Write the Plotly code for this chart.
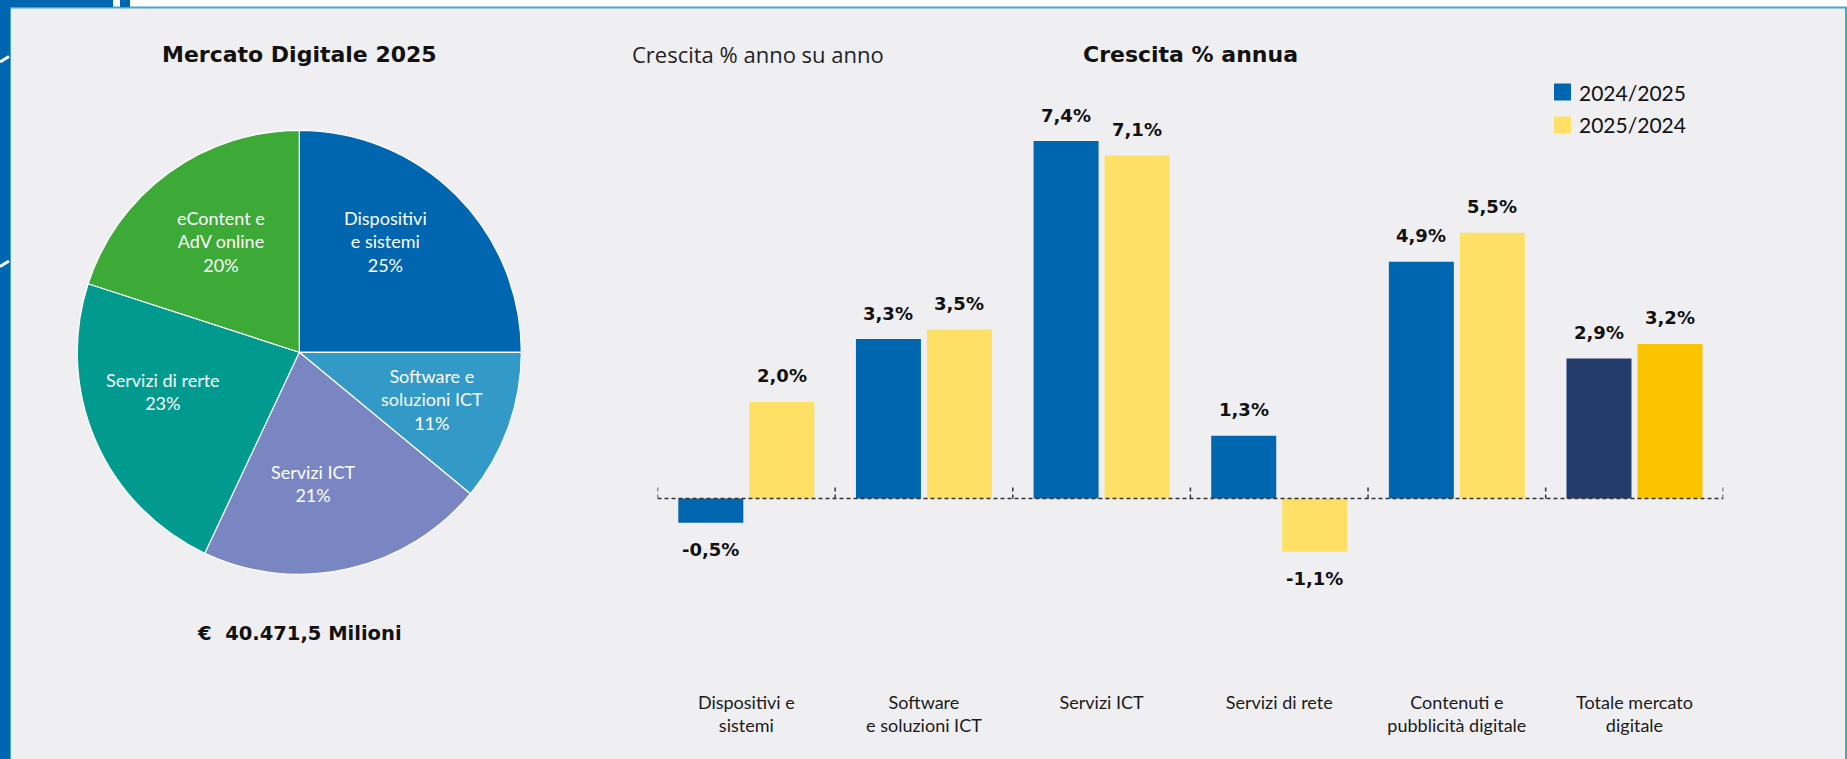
import plotly.graph_objects as go

# ---------------- data ----------------
pie_labels = ["Dispositivi<br>e sistemi", "Software e<br>soluzioni ICT", "Servizi ICT",
              "Servizi di rerte", "eContent e<br>AdV online"]
pie_values = [25, 11, 21, 23, 20]
pie_colors = ["#0066b0", "#3399c6", "#7986c2", "#009a8e", "#3daa37"]

categories = ["Dispositivi e<br>sistemi", "Software<br>e soluzioni ICT", "Servizi ICT",
              "Servizi di rete", "Contenuti e<br>pubblicità digitale", "Totale mercato<br>digitale"]
growth_2024_2025 = [-0.5, 3.3, 7.4, 1.3, 4.9, 2.9]
growth_2025_2024 = [2.0, 3.5, 7.1, -1.1, 5.5, 3.2]
series_names = ["2024/2025", "2025/2024"]

W, H = 1847, 759
FONT = "Lato"
FONT_REG = "Open Sans"
FONT_BOLD = "DejaVu Sans"
BLUE, YELLOW = "#0066b0", "#ffe066"
NAVY, GOLD = "#243c6c", "#fbc400"


def px(x):
    return x / W


def py(y):
    return 1 - y / H


fig = go.Figure()

# ---------------- pie ----------------
cx, cy, R = 299.3, 352.3, 222
fig.add_trace(go.Pie(
    labels=pie_labels, values=pie_values, sort=False, direction="clockwise", rotation=0,
    marker=dict(colors=pie_colors, line=dict(color="white", width=1.2)),
    textinfo="none", hoverinfo="label+percent", showlegend=False,
    domain=dict(x=[px(cx - R), px(cx + R)], y=[py(cy + R), py(cy - R)]),
))

# label placement offsets (pixels from pie centre), one per slice
label_offsets = [(85.7, -110.6), (132.7, 47.0), (13.7, 131.7), (-136.3, 39.4), (-78.6, -110.6)]
annotations = []
for lab, v, (dx, dy) in zip(pie_labels, pie_values, label_offsets):
    annotations.append(dict(
        x=px(cx + dx), y=py(cy + dy), xref="paper", yref="paper", showarrow=False,
        text=f"{lab}<br>{v}%", font=dict(family=FONT, size=18, color="white"),
        align="center", xanchor="center", yanchor="middle"))

# ---------------- bars ----------------
cat_w = 177.6
bar_w = 65 / cat_w
gap = 6 / cat_w
xs = list(range(len(categories)))
c1 = [BLUE] * (len(xs) - 1) + [NAVY]
c2 = [YELLOW] * (len(xs) - 1) + [GOLD]
off1 = -bar_w - gap / 2
off2 = gap / 2
fig.add_trace(go.Bar(x=xs, y=growth_2024_2025, name=series_names[0], marker=dict(color=c1, line=dict(width=0)),
                     width=bar_w, offset=off1, showlegend=False, xaxis="x", yaxis="y"))
fig.add_trace(go.Bar(x=xs, y=growth_2025_2024, name=series_names[1], marker=dict(color=c2, line=dict(width=0)),
                     width=bar_w, offset=off2, showlegend=False, xaxis="x", yaxis="y"))


def fmt(v):
    return f"{v:.1f}".replace(".", ",") + "%"


for vals, off in ((growth_2024_2025, off1), (growth_2025_2024, off2)):
    for i, v in zip(xs, vals):
        annotations.append(dict(
            x=i + off + bar_w / 2, y=v, xref="x", yref="y", showarrow=False,
            text=f"<b>{fmt(v)}</b>", font=dict(family=FONT_BOLD, size=18, color="#111111"),
            xanchor="center", yanchor="middle", yshift=26 if v >= 0 else -27))

plot_top, plot_bot, zero_px, ppu = 60, 690, 498.5, 48.3
y_range = [-(plot_bot - zero_px) / ppu, (zero_px - plot_top) / ppu]

# ---------------- texts ----------------
annotations += [
    dict(x=px(299), y=py(54), xref="paper", yref="paper", showarrow=False,
         text="<b>Mercato Digitale 2025</b>", font=dict(family=FONT_BOLD, size=22, color="#111111"),
         xanchor="center", yanchor="middle"),
    dict(x=px(299), y=py(633), xref="paper", yref="paper", showarrow=False,
         text="<b>€\u00a0\u00a040.471,5 Milioni</b>", font=dict(family=FONT_BOLD, size=19.5, color="#111111"),
         xanchor="center", yanchor="middle"),
    dict(x=px(630), y=py(54), xref="paper", yref="paper", showarrow=False,
         text="Crescita % anno su anno", font=dict(family=FONT_REG, size=22, color="#222222"),
         xanchor="left", yanchor="middle"),
    dict(x=px(1190), y=py(54), xref="paper", yref="paper", showarrow=False,
         text="<b>Crescita % annua</b>", font=dict(family=FONT_BOLD, size=22, color="#111111"),
         xanchor="center", yanchor="middle"),
]

# legend (manual)
shapes = []
for k, (name, col) in enumerate(zip(series_names, [BLUE, YELLOW])):
    yc = 92 + 33 * k
    shapes.append(dict(type="rect", xref="paper", yref="paper", x0=px(1554), x1=px(1571),
                       y0=py(yc + 8.5), y1=py(yc - 8.5), fillcolor=col, line=dict(width=0)))
    annotations.append(dict(x=px(1577), y=py(yc), xref="paper", yref="paper", showarrow=False,
                            text=name, font=dict(family=FONT, size=21, color="#111111"),
                            xanchor="left", yanchor="middle"))

# panel + frame decorations (below everything)
deco = [
    dict(type="rect", xref="paper", yref="paper", x0=px(10), x1=px(1846), y0=py(762), y1=py(7.5),
         fillcolor="#efeff2", line=dict(color="#4aa6c8", width=2), layer="below"),
    dict(type="rect", xref="paper", yref="paper", x0=0, x1=px(10), y0=0, y1=1,
         fillcolor="#0066b0", line=dict(width=0), layer="below"),
    dict(type="rect", xref="paper", yref="paper", x0=0, x1=px(113), y0=py(7), y1=1,
         fillcolor="#0066b0", line=dict(width=0), layer="below"),
    dict(type="rect", xref="paper", yref="paper", x0=px(120), x1=px(130), y0=py(7), y1=1,
         fillcolor="#0066b0", line=dict(width=0), layer="below"),
    dict(type="line", xref="paper", yref="paper", x0=0, x1=px(9), y0=py(62), y1=py(56.5),
         line=dict(color="white", width=3)),
    dict(type="line", xref="paper", yref="paper", x0=0, x1=px(9), y0=py(266.5), y1=py(261),
         line=dict(color="white", width=3)),
]
shapes = deco + shapes

# dashed zero line with boundary ticks
shapes.append(dict(type="line", xref="x", yref="y", x0=-0.5, x1=len(xs) - 0.5, y0=0, y1=0,
                   line=dict(color="#333333", width=1.5, dash="4px,3px")))
for b in range(len(xs) + 1):
    shapes.append(dict(type="line", xref="x", yref="y", x0=b - 0.5, x1=b - 0.5, y0=0, y1=13.5 / ppu,
                       line=dict(color="#333333", width=1.5, dash="4px,3px")))

fig.update_layout(
    width=W, height=H, margin=dict(l=0, r=0, t=0, b=0),
    paper_bgcolor="white", plot_bgcolor="rgba(0,0,0,0)",
    barmode="overlay", showlegend=False,
    xaxis=dict(domain=[px(657.5), px(1723.3)], range=[-0.5, len(xs) - 0.5],
               tickmode="array", tickvals=xs, ticktext=categories, showgrid=False, zeroline=False,
               showline=False, ticks="", tickfont=dict(family=FONT, size=18, color="#1a1a1a")),
    yaxis=dict(domain=[py(plot_bot), py(plot_top)], range=y_range, showgrid=False, zeroline=False,
               showticklabels=False, showline=False, ticks=""),
    annotations=annotations, shapes=shapes,
    font=dict(family=FONT),
)

fig.write_html("out.html", config={"displayModeBar": False},
               post_script="document.body.style.margin='0';document.body.style.overflow='hidden';")
